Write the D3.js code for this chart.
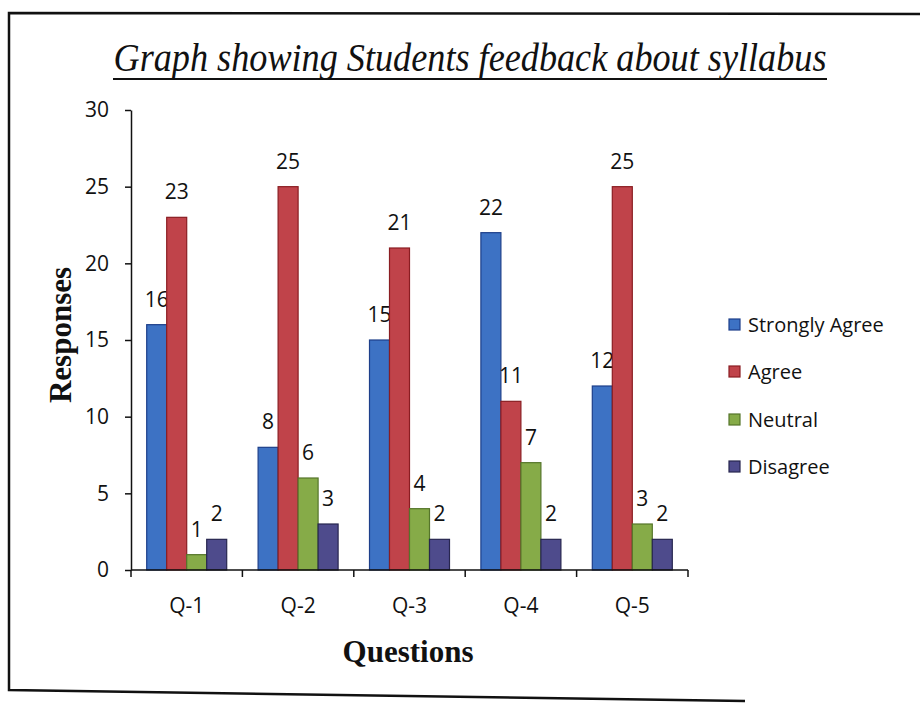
<!DOCTYPE html>
<html>
<head>
<meta charset="utf-8">
<script src="https://cdn.jsdelivr.net/npm/d3@7"></script>
<style>
  body { margin: 0; background: #fff; }
  svg { display: block; }
</style>
</head>
<body>
<svg id="chart" width="920" height="706"></svg>
<script>
const categories = ["Q-1", "Q-2", "Q-3", "Q-4", "Q-5"];
const seriesNames = ["Strongly Agree", "Agree", "Neutral", "Disagree"];
const stronglyAgree = [16, 8, 15, 22, 12];
const agree = [23, 25, 21, 11, 25];
const neutral = [1, 6, 4, 7, 3];
const disagree = [2, 3, 2, 2, 2];
const yTicks = [0, 5, 10, 15, 20, 25, 30];
const colors = ["#3d72c4", "#c0434a", "#86ab48", "#4e4b8c"];
const strokes = ["#1d3f8a", "#8a1d22", "#55752a", "#27264f"];

const seriesValues = [stronglyAgree, agree, neutral, disagree];
const svg = d3.select("#chart");
const font = "'Open Sans', sans-serif";
const fw = 500;

// frame
svg.append("path")
  .attr("d", "M920,14 L9,13 L9,690 L745,701")
  .attr("fill", "none").attr("stroke", "#111").attr("stroke-width", 2.5);

const pLeft = 131, pRight = 688, pTop = 110, pBottom = 570;
const x = d3.scaleBand().domain(categories).range([pLeft, pRight]);
const y = d3.scaleLinear().domain([0, 30]).range([pBottom, pTop]);
const barW = 20;
const inner = d3.scaleBand().domain(seriesNames).range([0, barW * 4]);

// title
svg.append("text")
  .attr("x", 470).attr("y", 71).attr("text-anchor", "middle")
  .attr("font-family", "'Liberation Serif', 'Times New Roman', serif")
  .attr("font-style", "italic").attr("font-size", 39)
  .attr("textLength", 713).attr("lengthAdjust", "spacingAndGlyphs")
  .attr("fill", "#111")
  .text("Graph showing Students feedback about syllabus");
svg.append("line").attr("x1", 113).attr("x2", 827).attr("y1", 79).attr("y2", 79)
  .attr("stroke", "#111").attr("stroke-width", 2);

// bars
categories.forEach((c, i) => {
  const g0 = x(c) + (x.bandwidth() - barW * 4) / 2;
  seriesNames.forEach((s, j) => {
    const v = seriesValues[j][i];
    svg.append("rect")
      .attr("x", g0 + inner(s)).attr("y", y(v))
      .attr("width", inner.bandwidth()).attr("height", y(0) - y(v))
      .attr("fill", colors[j]).attr("stroke", strokes[j]).attr("stroke-width", 1.2);
    svg.append("text")
      .attr("x", g0 + inner(s) + inner.bandwidth() / 2)
      .attr("y", y(v) - 18)
      .attr("text-anchor", "middle")
      .attr("font-family", font).attr("font-size", 21).attr("font-weight", fw).attr("fill", "#111")
      .text(d3.format("d")(v));
  });
});

// axes
const yAxis = d3.axisLeft(y).tickValues(yTicks).tickSize(6).tickPadding(16).tickSizeOuter(0);
const gy = svg.append("g").attr("transform", `translate(${pLeft},0)`).call(yAxis);
gy.selectAll("text").attr("font-family", font).attr("font-size", 21).attr("font-weight", fw).attr("fill", "#111");
gy.selectAll("line,path").attr("stroke", "#111").attr("stroke-width", 1.5);

const xAxis = d3.axisBottom(x).tickSize(0).tickPadding(28);
const gx = svg.append("g").attr("transform", `translate(0,${pBottom})`).call(xAxis);
gx.select(".domain").attr("d", `M${pLeft},0H${pRight}`);
gx.selectAll("text").attr("font-family", font).attr("font-size", 21).attr("font-weight", fw).attr("fill", "#111");
gx.selectAll("line,path").attr("stroke", "#111").attr("stroke-width", 1.5);
const bounds = categories.map(c => x(c)).concat([pRight]);
gx.selectAll(".bt").data(bounds).enter().append("line")
  .attr("x1", d => d).attr("x2", d => d).attr("y1", 0).attr("y2", 7)
  .attr("stroke", "#111").attr("stroke-width", 1.5);

// axis titles
svg.append("text")
  .attr("transform", "translate(71,335) rotate(-90)")
  .attr("text-anchor", "middle")
  .attr("font-family", "'Liberation Serif', 'Times New Roman', serif")
  .attr("font-weight", "bold").attr("font-size", 31).attr("fill", "#111")
  .text("Responses");
svg.append("text")
  .attr("x", 408).attr("y", 662).attr("text-anchor", "middle")
  .attr("font-family", "'Liberation Serif', 'Times New Roman', serif")
  .attr("font-weight", "bold").attr("font-size", 31).attr("fill", "#111")
  .text("Questions");

// legend
const legY = [325, 372, 420, 467];
seriesNames.forEach((s, j) => {
  svg.append("rect").attr("x", 729).attr("y", legY[j] - 6)
    .attr("width", 11).attr("height", 11)
    .attr("fill", colors[j]).attr("stroke", strokes[j]).attr("stroke-width", 1.2);
  svg.append("text").attr("x", 748).attr("y", legY[j]).attr("dy", "0.35em")
    .attr("font-family", font).attr("font-size", 20).attr("font-weight", fw).attr("fill", "#111")
    .text(s);
});
</script>
</body>
</html>
